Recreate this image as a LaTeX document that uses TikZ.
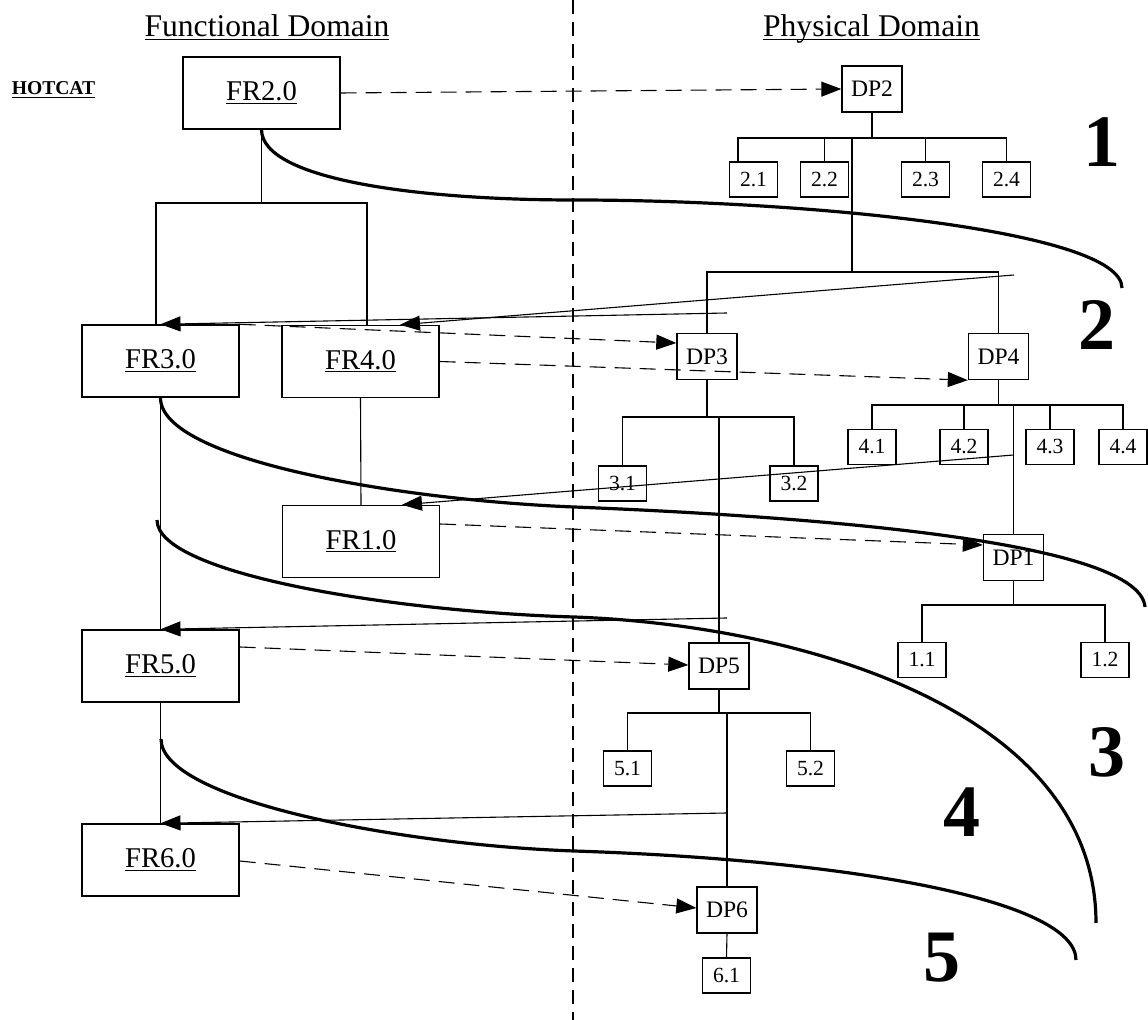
\documentclass[tikz,border=0pt]{standalone}
\usepackage{fontspec}
\setmainfont{Liberation Serif}
\usetikzlibrary{arrows.meta}
\newcommand\udl[1]{\underline{\smash{#1}}\vphantom{#1}}
\begin{document}
\begin{tikzpicture}[x=0.5pt,y=-0.5pt,
 frbox/.style={draw,line width=0.7pt,minimum width=78.5pt,minimum height=36pt,inner sep=0pt,font=\fontsize{14.3}{16}\selectfont},
 dpbox/.style={draw,line width=0.7pt,minimum width=30pt,minimum height=23pt,inner sep=0pt,font=\fontsize{11.8}{13}\selectfont},
 subbox/.style={draw,line width=0.7pt,minimum width=24pt,minimum height=17.5pt,inner sep=0pt,font=\fontsize{10.8}{12}\selectfont},
 tree/.style={line width=0.55pt},
 zig/.style={line width=0.55pt,-{Triangle[length=10pt,width=7.5pt]}},
 map/.style={line width=0.55pt,dash pattern=on 8pt off 4.5pt,-{Triangle[length=10pt,width=7.5pt]}},
 divider/.style={line width=0.6pt,dash pattern=on 7pt off 4pt},
 zag/.style={line width=1.6pt},
 title/.style={font=\fontsize{15.8}{18}\selectfont,anchor=base,inner sep=0pt},
 levelnum/.style={font=\fontsize{37}{40}\selectfont\bfseries,inner sep=0pt}
]
\useasboundingbox (0,0) rectangle (1148,1020);

% divider
\coordinate (dtop) at (573,0);
\coordinate (dbot) at (573,1020);
\draw[divider] (dtop) -- (dbot);

% titles
\node[title] (tf) at (267,37) {\udl{Functional Domain}};
\node[title] (tp) at (871.5,37) {\udl{Physical Domain}};
\node[anchor=base,inner sep=0pt,font=\fontsize{9.8}{11}\selectfont\bfseries] (hot) at (53.5,95) {\udl{HOTCAT}};

% FR boxes
\node[frbox] (fr2) at (261.5,93) {\udl{FR2.0}};
\node[frbox] (fr3) at (160.5,361) {\udl{FR3.0}};
\node[frbox] (fr4) at (360.5,361.5) {\udl{FR4.0}};
\node[frbox] (fr1) at (361,541.5) {\udl{FR1.0}};
\node[frbox] (fr5) at (160.5,666) {\udl{FR5.0}};
\node[frbox] (fr6) at (160.5,860) {\udl{FR6.0}};

% DP boxes
\node[dpbox] (dp2) at (872,89) {DP2};
\node[dpbox] (dp3) at (707,356.5) {DP3};
\node[dpbox] (dp4) at (998.5,356.5) {DP4};
\node[dpbox] (dp1) at (1013.5,557.5) {DP1};
\node[dpbox] (dp5) at (719,666) {DP5};
\node[dpbox] (dp6) at (727,910) {DP6};

% leaves
\node[subbox] (c21) at (753.5,179.5) {2.1};
\node[subbox] (c22) at (824.5,179.5) {2.2};
\node[subbox] (c23) at (925.5,179.5) {2.3};
\node[subbox] (c24) at (1006.5,179.5) {2.4};
\node[subbox] (c41) at (872,447) {4.1};
\node[subbox] (c42) at (964,447) {4.2};
\node[subbox] (c43) at (1050,447) {4.3};
\node[subbox] (c44) at (1123,447) {4.4};
\node[subbox] (c31) at (622.5,483.5) {3.1};
\node[subbox] (c32) at (794,483.5) {3.2};
\node[subbox] (c11) at (922,660) {1.1};
\node[subbox] (c12) at (1105,660) {1.2};
\node[subbox] (c51) at (627.5,768.5) {5.1};
\node[subbox] (c52) at (810.5,768.5) {5.2};
\node[subbox] (c61) at (726.5,975.5) {6.1};

% functional tree
\draw[tree] (fr2.south) -- (fr2.south |- 0,203);
\draw[tree] (fr3.north -| 156,0) |- (fr4.north |- 0,203) -| (fr4.north -| 367,0);
\draw[tree] (fr3.south) -- (fr5.north);
\draw[tree] (fr5.south) -- (fr6.north);
\draw[tree] (fr4.south) -- (fr1.north);

% DP2 tree
\draw[tree] (dp2.south) -- (dp2.south |- 0,138);
\draw[tree] (c21.north -| 738,0) |- (c24.north |- 0,138) -- (c24.north);
\draw[tree] (c22.north) -- (c22.north |- 0,138);
\draw[tree] (c23.north) -- (c23.north |- 0,138);
\draw[tree] (852,138) -- (852,272);
\draw[tree] (dp3.north) |- (dp4.north |- 0,272) -- (dp4.north);

% DP3 tree
\draw[tree] (dp3.south) -- (dp3.south |- 0,417);
\draw[tree] (c31.north) |- (c32.north |- 0,417) -- (c32.north);
\draw[tree] (dp5.north |- 0,417) -- (dp5.north);

% DP4 tree
\draw[tree] (dp4.south) -- (dp4.south |- 0,405);
\draw[tree] (c41.north) |- (c44.north |- 0,405) -- (c44.north);
\draw[tree] (c42.north) -- (c42.north |- 0,405);
\draw[tree] (c43.north) -- (c43.north |- 0,405);
\draw[tree] (dp1.north |- 0,405) -- (dp1.north);

% DP1 tree
\draw[tree] (dp1.south) -- (dp1.south |- 0,605);
\draw[tree] (c11.north) |- (c12.north |- 0,605) -- (c12.north);

% DP5 tree
\draw[tree] (dp5.south) -- (dp5.south |- 0,713);
\draw[tree] (c51.north) |- (c52.north |- 0,713) -- (c52.north);
\draw[tree] (dp6.north |- 0,713) -- (dp6.north);

% DP6 tree
\draw[tree] (dp6.south) -- (c61.north);

% mapping (dashed)
\draw[map] (fr2.east) -- (dp2.west);
\draw[map] (fr3.north east) -- (dp3.west |- 0,343);
\draw[map] (fr4.east) -- (dp4.south west);
\draw[map] (fr1.east |- 0,524) -- (dp1.west |- 0,545);
\draw[map] (fr5.east |- 0,647) -- (dp5.west |- 0,665);
\draw[map] (fr6.east |- 0,861) -- (dp6.west |- 0,908);

% zig arrows
\coordinate (s1) at (1014,275);
\coordinate (s2) at (727,313);
\coordinate (s3) at (1013.6,455);
\coordinate (s4) at (727,618);
\coordinate (s5) at (727,813);
\draw[zig] (s1) -- (fr4.north -| 400,0);
\draw[zig] (s2) -- (fr3.north);
\draw[zig] (s3) -- (fr1.north -| 402,0);
\draw[zig] (s4) -- (fr5.north);
\draw[zig] (s5) -- (fr6.north);

% zag curves
\draw[zag] (fr2.south) .. controls (262,180) and (420,200) .. (574,200)
  .. controls (800,200) and (1122,230) .. (1122,288);
\draw[zag] (fr3.south) .. controls (160,460) and (400,500) .. (574,507)
  .. controls (850,518) and (1140,545) .. (1145,607);
\draw[zag] (157,520) .. controls (157,575) and (400,612) .. (574,617)
  .. controls (800,625) and (1096,710) .. (1096,923);
\draw[zag] (161,739) .. controls (161,800) and (400,845) .. (574,851)
  .. controls (850,860) and (1076,900) .. (1076,960);

% level numbers
\node[levelnum] (n1) at (1102,142) {1};
\node[levelnum] (n2) at (1097,325) {2};
\node[levelnum] (n3) at (1107,752) {3};
\node[levelnum] (n4) at (962,812) {4};
\node[levelnum] (n5) at (942,958) {5};
\end{tikzpicture}
\end{document}
